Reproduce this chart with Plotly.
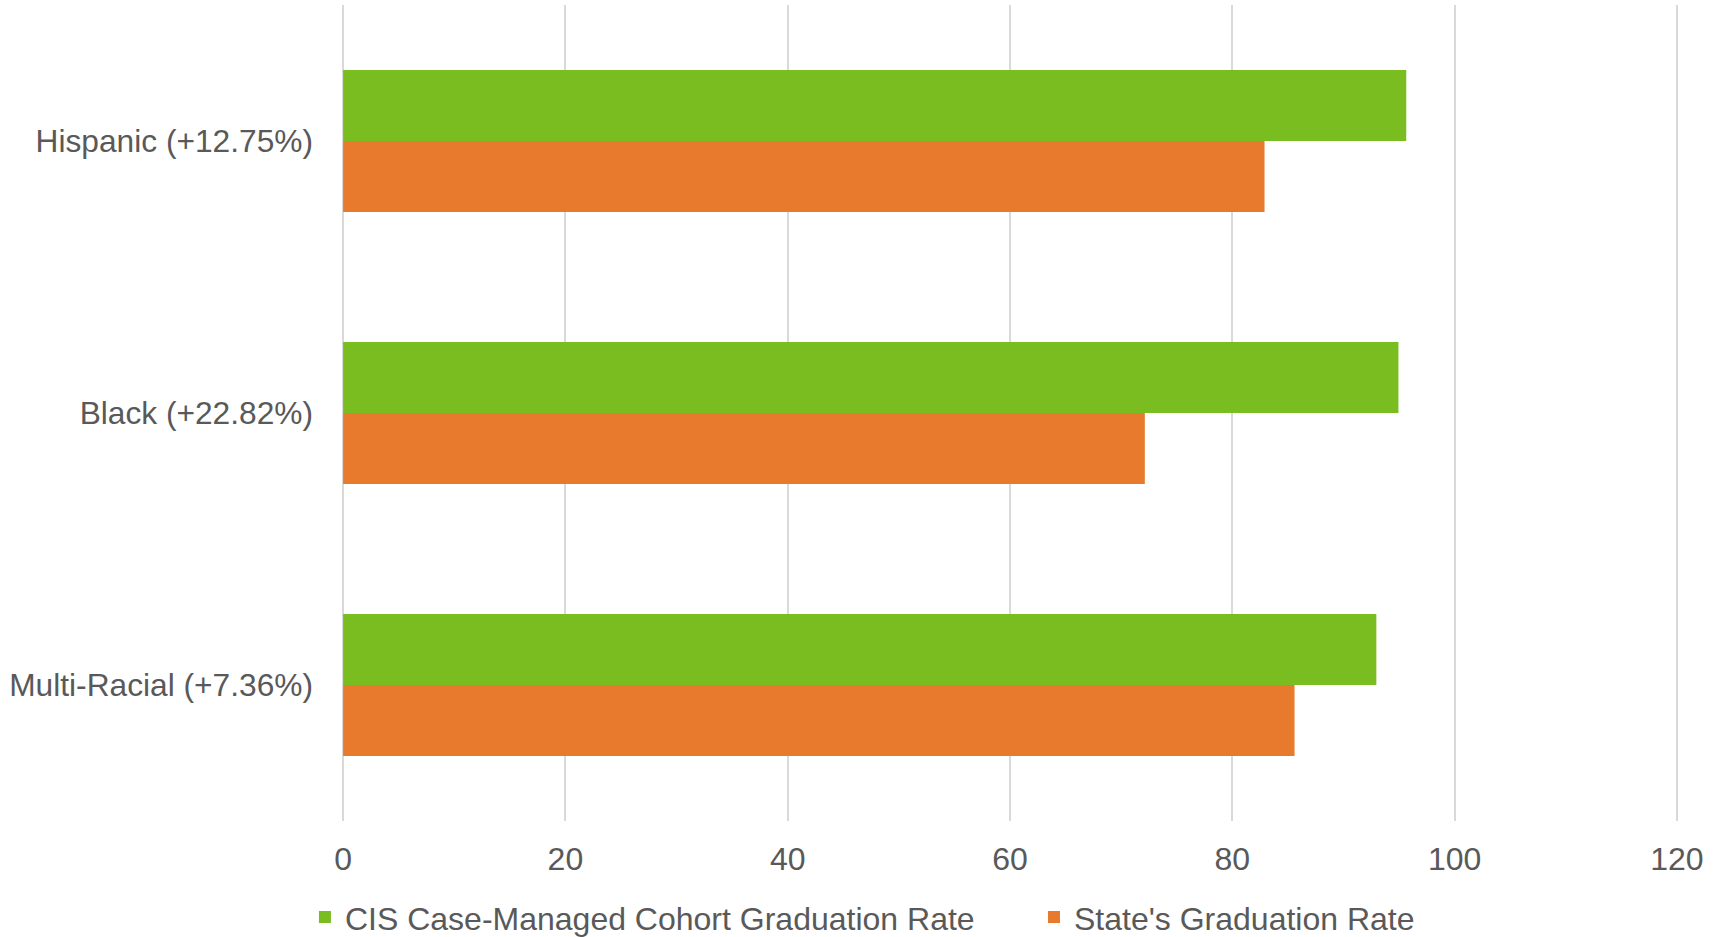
import plotly.graph_objects as go

categories = ["Hispanic (+12.75%)", "Black (+22.82%)", "Multi-Racial (+7.36%)"]
cis_rate = [95.65, 94.95, 92.96]
state_rate = [82.9, 72.13, 85.6]
series_names = ["CIS Case-Managed Cohort Graduation Rate", "State's Graduation Rate"]
x_ticks = [0, 20, 40, 60, 80, 100, 120]

GREEN = "#7abd21"
ORANGE = "#e77a2c"
TEXT = "#595959"
FONT = "Liberation Sans, Arial, sans-serif"
FS = 32

fig = go.Figure()
fig.add_trace(go.Bar(y=categories, x=state_rate, orientation="h", name=series_names[1],
                     marker=dict(color=ORANGE, line=dict(width=0)), legend="legend2"))
fig.add_trace(go.Bar(y=categories, x=cis_rate, orientation="h", name=series_names[0],
                     marker=dict(color=GREEN, line=dict(width=0)), legend="legend"))

leg_common = dict(orientation="h", xref="container", yref="container",
                  xanchor="left", y=0.021, yanchor="middle",
                  font=dict(family=FONT, size=FS, color=TEXT),
                  itemwidth=30, bgcolor="rgba(0,0,0,0)")

fig.update_layout(
    width=1719, height=937,
    margin=dict(l=342, r=41, t=5, b=116, autoexpand=False),
    paper_bgcolor="white", plot_bgcolor="white",
    barmode="group", bargap=0.478, bargroupgap=0,
    font=dict(family=FONT, size=FS, color=TEXT),
    showlegend=True,
    legend=dict(x=0.1774, **leg_common),
    legend2=dict(x=0.6015, **leg_common),
)
fig.update_xaxes(range=[-0.1, 120.1], tickvals=x_ticks, ticktext=[str(t) for t in x_ticks],
                 showgrid=True, gridcolor="#d9d9d9", gridwidth=2,
                 zeroline=False, showline=False, ticks="", ticklabelstandoff=16,
                 tickfont=dict(family=FONT, size=FS, color=TEXT))
fig.update_yaxes(categoryorder="array", categoryarray=categories[::-1],
                 showgrid=False, zeroline=False, showline=False, ticks="",
                 ticklabelstandoff=28,
                 tickfont=dict(family=FONT, size=31.7, color=TEXT))

fig.write_html("out.html")
